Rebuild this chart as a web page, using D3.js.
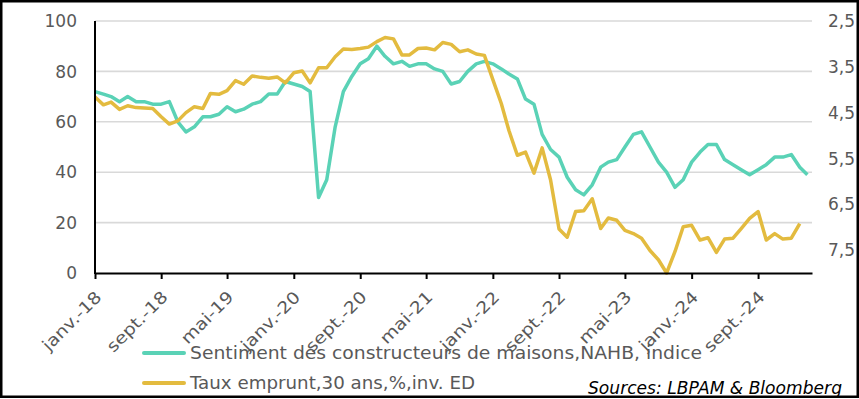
<!DOCTYPE html>
<html>
<head>
<meta charset="utf-8">
<script src="https://cdn.jsdelivr.net/npm/d3@7"></script>
<style>
  body { margin: 0; background: #fff; }
  svg { display: block; }
  text { font-family: 'DejaVu Sans', sans-serif; }
</style>
</head>
<body>
<div class="graph"></div>
<script>
// monthly series, janv. 2018 -> mars 2025
const startMonth = new Date(2018, 0, 1);
const months = d3.timeMonth.range(startMonth, new Date(2025, 3, 1));

// NAHB builder sentiment index
const nahb = [
  72, 71, 70, 68, 70, 68, 68, 67, 67, 68, 60, 56,
  58, 62, 62, 63, 66, 64, 65, 67, 68, 71, 71, 76,
  75, 74, 72, 30, 37, 58, 72, 78, 83, 85, 90, 86,
  83, 84, 82, 83, 83, 81, 80, 75, 76, 80, 83, 84,
  83, 81, 79, 77, 69, 67, 55, 49, 46, 38, 33, 31,
  35, 42, 44, 45, 50, 55, 56, 50, 44, 40, 34, 37,
  44, 48, 51, 51, 45, 43, 41, 39, 41, 43, 46, 46,
  47, 42, 39,
];

// 30y mortgage rate, % (plotted on inverted right axis), to févr. 2025
const mortgage = [
  4.16, 4.33, 4.27, 4.43, 4.35, 4.39, 4.40, 4.41, 4.59, 4.75, 4.68, 4.50,
  4.37, 4.41, 4.08, 4.10, 4.02, 3.80, 3.88, 3.70, 3.73, 3.75, 3.72, 3.85,
  3.63, 3.59, 3.85, 3.52, 3.52, 3.28, 3.11, 3.12, 3.10, 3.07, 2.95, 2.86,
  2.89, 3.24, 3.24, 3.10, 3.09, 3.13, 2.97, 3.01, 3.17, 3.13, 3.22, 3.25,
  3.78, 4.30, 4.89, 5.43, 5.36, 5.82, 5.27, 5.97, 7.04, 7.22, 6.66, 6.64,
  6.38, 7.03, 6.80, 6.85, 7.07, 7.14, 7.24, 7.51, 7.71, 8.00, 7.53, 6.99,
  6.96, 7.28, 7.23, 7.55, 7.26, 7.24, 7.03, 6.81, 6.66, 7.28, 7.14, 7.26,
  7.24, 6.92,
];

const tickLabels = ['janv.-18', 'sept.-18', 'mai-19', 'janv.-20', 'sept.-20', 'mai-21',
  'janv.-22', 'sept.-22', 'mai-23', 'janv.-24', 'sept.-24'];
const leftTicks = [0, 20, 40, 60, 80, 100];
const rightTicks = [2.5, 3.5, 4.5, 5.5, 6.5, 7.5];
const rightLabels = ['2,5', '3,5', '4,5', '5,5', '6,5', '7,5'];

const seriesNames = ['Sentiment des constructeurs de maisons,NAHB, indice', 'Taux emprunt,30 ans,%,inv. ED'];
const colors = ['#5AD2B6', '#E3BB3F'];

const width = 859;
const height = 399;
const plot = { left: 95, right: 812, top: 21, bottom: 273 };

const svg = d3.select('.graph').append('svg')
  .attr('width', width)
  .attr('height', height);

const x = d3.scaleTime()
  .domain([startMonth, new Date(2025, 2, 18)])
  .range([plot.left, plot.right]);
const y = d3.scaleLinear().domain([0, 100]).range([plot.bottom, plot.top]);
const y2 = d3.scaleLinear().domain([2.5, 8]).range([plot.top, plot.bottom]);

// gridlines
svg.append('g')
  .selectAll('line')
  .data(leftTicks.filter((d) => d > 0))
  .enter()
  .append('line')
  .attr('x1', plot.left)
  .attr('x2', plot.right)
  .attr('y1', (d) => y(d))
  .attr('y2', (d) => y(d))
  .attr('stroke', '#d9d9d9')
  .attr('stroke-width', 1.6);

// left axis labels
svg.append('g')
  .selectAll('text')
  .data(leftTicks)
  .enter()
  .append('text')
  .attr('x', 77)
  .attr('y', (d) => y(d))
  .attr('dy', '0.36em')
  .attr('text-anchor', 'end')
  .attr('font-size', 17)
  .attr('fill', '#595959')
  .text((d) => d);

// right axis labels
svg.append('g')
  .selectAll('text')
  .data(rightTicks)
  .enter()
  .append('text')
  .attr('x', 828)
  .attr('y', (d) => y2(d))
  .attr('dy', '0.36em')
  .attr('font-size', 17)
  .attr('fill', '#595959')
  .text((d, i) => rightLabels[i]);

// series
const lineNahb = d3.line()
  .x((d, i) => x(months[i]))
  .y((d) => y(d));
const lineRate = d3.line()
  .x((d, i) => x(months[i]))
  .y((d) => y2(d));

svg.append('path')
  .datum(nahb)
  .attr('d', lineNahb)
  .attr('fill', 'none')
  .attr('stroke', colors[0])
  .attr('stroke-width', 3.5)
  .attr('stroke-linejoin', 'round');

svg.append('path')
  .datum(mortgage)
  .attr('d', lineRate)
  .attr('fill', 'none')
  .attr('stroke', colors[1])
  .attr('stroke-width', 3.5)
  .attr('stroke-linejoin', 'round');

// axes
const tickDates = tickLabels.map((d, i) => d3.timeMonth.offset(startMonth, i * 8));
const xAxis = svg.append('g')
  .attr('transform', `translate(0,${plot.bottom})`)
  .call(d3.axisBottom(x).tickValues(tickDates).tickFormat((d, i) => tickLabels[i]).tickSize(6).tickSizeOuter(0));
xAxis.select('.domain').attr('stroke', '#000').attr('stroke-width', 2);
xAxis.selectAll('.tick line').attr('stroke', '#000').attr('stroke-width', 2);
xAxis.selectAll('.tick text')
  .attr('x', 0)
  .attr('y', 0)
  .attr('dy', '0.35em')
  .attr('text-anchor', 'end')
  .attr('transform', 'translate(3,21) rotate(-45)')
  .attr('font-size', 16.5)
  .attr('font-family', "'DejaVu Sans', sans-serif")
  .attr('fill', '#595959')
  .each(function () {
    const len = this.getComputedTextLength();
    d3.select(this)
      .attr('textLength', len * 1.15)
      .attr('lengthAdjust', 'spacingAndGlyphs');
  });

svg.append('line')
  .attr('x1', plot.left)
  .attr('x2', plot.left)
  .attr('y1', plot.top)
  .attr('y2', plot.bottom + 1)
  .attr('stroke', '#000')
  .attr('stroke-width', 2);

// legend
const legend = svg.append('g')
  .selectAll('g')
  .data(seriesNames)
  .enter()
  .append('g')
  .attr('transform', (d, i) => `translate(0,${353 + i * 30})`);
legend.append('line')
  .attr('x1', 144)
  .attr('x2', 184)
  .attr('stroke', (d, i) => colors[i])
  .attr('stroke-width', 4)
  .attr('stroke-linecap', 'round');
legend.append('text')
  .attr('x', 190)
  .attr('y', 6)
  .attr('font-size', 18)
  .attr('fill', '#595959')
  .attr('textLength', (d, i) => [512, 285][i])
  .attr('lengthAdjust', 'spacingAndGlyphs')
  .text((d) => d);

svg.append('text')
  .attr('x', 588)
  .attr('y', 394)
  .attr('font-size', 17)
  .attr('font-style', 'italic')
  .attr('fill', '#000')
  .attr('textLength', 254)
  .attr('lengthAdjust', 'spacingAndGlyphs')
  .text('Sources: LBPAM & Bloomberg');

// frame
svg.append('rect')
  .attr('x', 1.25)
  .attr('y', 1.25)
  .attr('width', width - 2.5)
  .attr('height', height - 3.5)
  .attr('fill', 'none')
  .attr('stroke', '#000')
  .attr('stroke-width', 2.5);
</script>
</body>
</html>
